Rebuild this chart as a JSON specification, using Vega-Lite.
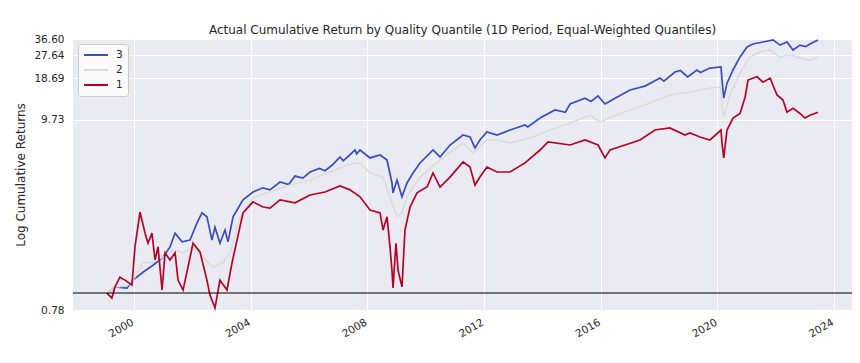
{
  "$schema": "https://vega.github.io/schema/vega-lite/v6.json",
  "width": 779,
  "height": 271,
  "autosize": "none",
  "padding": {"left": 73, "top": 39, "right": 8, "bottom": 53},
  "background": "white",
  "title": {"text": "Actual Cumulative Return by Quality Quantile (1D Period, Equal-Weighted Quantiles)", "fontSize": 12, "fontWeight": "normal", "font": "DejaVu Sans", "color": "#262626", "offset": -3, "anchor": "middle"},
  "datasets": {
    "series": [
      {"date": "1999-01-27", "value": 0.94, "quantile": "3"},
      {"date": "1999-05-08", "value": 1.023, "quantile": "3"},
      {"date": "1999-10-05", "value": 1.01, "quantile": "3"},
      {"date": "1999-12-19", "value": 1.11, "quantile": "3"},
      {"date": "2000-04-22", "value": 1.22, "quantile": "3"},
      {"date": "2000-08-26", "value": 1.33, "quantile": "3"},
      {"date": "2000-12-29", "value": 1.47, "quantile": "3"},
      {"date": "2001-03-27", "value": 1.67, "quantile": "3"},
      {"date": "2001-05-29", "value": 1.99, "quantile": "3"},
      {"date": "2001-08-24", "value": 1.78, "quantile": "3"},
      {"date": "2001-12-02", "value": 1.82, "quantile": "3"},
      {"date": "2002-02-28", "value": 2.27, "quantile": "3"},
      {"date": "2002-05-01", "value": 2.59, "quantile": "3"},
      {"date": "2002-07-02", "value": 2.46, "quantile": "3"},
      {"date": "2002-09-03", "value": 1.82, "quantile": "3"},
      {"date": "2002-10-11", "value": 2.15, "quantile": "3"},
      {"date": "2002-12-12", "value": 1.75, "quantile": "3"},
      {"date": "2003-02-13", "value": 2.07, "quantile": "3"},
      {"date": "2003-03-23", "value": 1.78, "quantile": "3"},
      {"date": "2003-05-25", "value": 2.46, "quantile": "3"},
      {"date": "2003-09-27", "value": 3.08, "quantile": "3"},
      {"date": "2004-01-30", "value": 3.43, "quantile": "3"},
      {"date": "2004-06-03", "value": 3.63, "quantile": "3"},
      {"date": "2004-08-30", "value": 3.53, "quantile": "3"},
      {"date": "2005-01-02", "value": 3.93, "quantile": "3"},
      {"date": "2005-04-20", "value": 3.8, "quantile": "3"},
      {"date": "2005-07-09", "value": 4.27, "quantile": "3"},
      {"date": "2005-10-15", "value": 4.15, "quantile": "3"},
      {"date": "2006-01-13", "value": 4.52, "quantile": "3"},
      {"date": "2006-05-10", "value": 4.75, "quantile": "3"},
      {"date": "2006-07-19", "value": 4.6, "quantile": "3"},
      {"date": "2006-10-19", "value": 4.99, "quantile": "3"},
      {"date": "2007-01-23", "value": 5.6, "quantile": "3"},
      {"date": "2007-03-05", "value": 5.3, "quantile": "3"},
      {"date": "2007-07-30", "value": 6.19, "quantile": "3"},
      {"date": "2007-08-20", "value": 5.85, "quantile": "3"},
      {"date": "2007-10-01", "value": 6.19, "quantile": "3"},
      {"date": "2008-02-03", "value": 5.52, "quantile": "3"},
      {"date": "2008-06-08", "value": 5.76, "quantile": "3"},
      {"date": "2008-09-03", "value": 5.36, "quantile": "3"},
      {"date": "2008-11-04", "value": 3.88, "quantile": "3"},
      {"date": "2008-11-17", "value": 3.39, "quantile": "3"},
      {"date": "2009-01-06", "value": 4.04, "quantile": "3"},
      {"date": "2009-03-09", "value": 3.21, "quantile": "3"},
      {"date": "2009-05-11", "value": 3.88, "quantile": "3"},
      {"date": "2009-07-25", "value": 4.46, "quantile": "3"},
      {"date": "2009-10-21", "value": 5.14, "quantile": "3"},
      {"date": "2010-04-02", "value": 6.19, "quantile": "3"},
      {"date": "2010-06-29", "value": 5.6, "quantile": "3"},
      {"date": "2010-11-01", "value": 6.66, "quantile": "3"},
      {"date": "2011-04-13", "value": 7.72, "quantile": "3"},
      {"date": "2011-07-09", "value": 7.5, "quantile": "3"},
      {"date": "2011-09-09", "value": 6.38, "quantile": "3"},
      {"date": "2011-11-10", "value": 7.17, "quantile": "3"},
      {"date": "2012-02-06", "value": 8.08, "quantile": "3"},
      {"date": "2012-06-11", "value": 7.72, "quantile": "3"},
      {"date": "2012-11-21", "value": 8.32, "quantile": "3"},
      {"date": "2013-05-28", "value": 8.97, "quantile": "3"},
      {"date": "2013-07-01", "value": 8.7, "quantile": "3"},
      {"date": "2013-12-02", "value": 9.97, "quantile": "3"},
      {"date": "2014-06-08", "value": 11.3, "quantile": "3"},
      {"date": "2014-10-15", "value": 10.9, "quantile": "3"},
      {"date": "2014-12-13", "value": 12.4, "quantile": "3"},
      {"date": "2015-06-18", "value": 13.6, "quantile": "3"},
      {"date": "2015-09-01", "value": 12.9, "quantile": "3"},
      {"date": "2015-11-28", "value": 14.1, "quantile": "3"},
      {"date": "2016-02-23", "value": 12.4, "quantile": "3"},
      {"date": "2016-06-28", "value": 13.6, "quantile": "3"},
      {"date": "2017-01-02", "value": 15.5, "quantile": "3"},
      {"date": "2017-07-08", "value": 16.5, "quantile": "3"},
      {"date": "2018-01-12", "value": 18.8, "quantile": "3"},
      {"date": "2018-03-01", "value": 17.9, "quantile": "3"},
      {"date": "2018-07-18", "value": 20.8, "quantile": "3"},
      {"date": "2018-09-25", "value": 21.3, "quantile": "3"},
      {"date": "2018-12-24", "value": 19.2, "quantile": "3"},
      {"date": "2019-04-20", "value": 21.5, "quantile": "3"},
      {"date": "2019-06-03", "value": 20.6, "quantile": "3"},
      {"date": "2019-09-29", "value": 22.2, "quantile": "3"},
      {"date": "2020-02-15", "value": 22.6, "quantile": "3"},
      {"date": "2020-02-27", "value": 18.2, "quantile": "3"},
      {"date": "2020-03-20", "value": 13.6, "quantile": "3"},
      {"date": "2020-04-30", "value": 17.3, "quantile": "3"},
      {"date": "2020-07-14", "value": 21.5, "quantile": "3"},
      {"date": "2020-10-10", "value": 26.8, "quantile": "3"},
      {"date": "2021-01-06", "value": 31.8, "quantile": "3"},
      {"date": "2021-03-21", "value": 33.5, "quantile": "3"},
      {"date": "2021-07-25", "value": 34.7, "quantile": "3"},
      {"date": "2021-11-27", "value": 36.0, "quantile": "3"},
      {"date": "2022-02-23", "value": 32.9, "quantile": "3"},
      {"date": "2022-05-21", "value": 34.7, "quantile": "3"},
      {"date": "2022-08-04", "value": 30.2, "quantile": "3"},
      {"date": "2022-10-31", "value": 32.9, "quantile": "3"},
      {"date": "2023-01-10", "value": 32.0, "quantile": "3"},
      {"date": "2023-03-05", "value": 33.5, "quantile": "3"},
      {"date": "2023-06-13", "value": 36.0, "quantile": "3"},

      {"date": "1999-01-27", "value": 0.94, "quantile": "2"},
      {"date": "1999-05-08", "value": 1.023, "quantile": "2"},
      {"date": "1999-10-05", "value": 1.035, "quantile": "2"},
      {"date": "1999-12-19", "value": 1.11, "quantile": "2"},
      {"date": "2000-04-22", "value": 1.37, "quantile": "2"},
      {"date": "2000-08-26", "value": 1.38, "quantile": "2"},
      {"date": "2000-12-29", "value": 1.47, "quantile": "2"},
      {"date": "2001-05-03", "value": 1.61, "quantile": "2"},
      {"date": "2001-09-06", "value": 1.55, "quantile": "2"},
      {"date": "2002-01-09", "value": 1.67, "quantile": "2"},
      {"date": "2002-05-14", "value": 1.47, "quantile": "2"},
      {"date": "2002-09-16", "value": 1.3, "quantile": "2"},
      {"date": "2003-01-19", "value": 1.37, "quantile": "2"},
      {"date": "2003-04-17", "value": 1.55, "quantile": "2"},
      {"date": "2003-08-20", "value": 2.46, "quantile": "2"},
      {"date": "2004-01-30", "value": 3.16, "quantile": "2"},
      {"date": "2004-07-23", "value": 3.39, "quantile": "2"},
      {"date": "2005-05-07", "value": 3.77, "quantile": "2"},
      {"date": "2006-01-13", "value": 4.04, "quantile": "2"},
      {"date": "2006-09-20", "value": 4.52, "quantile": "2"},
      {"date": "2007-05-28", "value": 5.06, "quantile": "2"},
      {"date": "2007-10-01", "value": 5.14, "quantile": "2"},
      {"date": "2008-02-03", "value": 4.46, "quantile": "2"},
      {"date": "2008-07-15", "value": 4.21, "quantile": "2"},
      {"date": "2008-11-04", "value": 2.96, "quantile": "2"},
      {"date": "2009-01-06", "value": 2.46, "quantile": "2"},
      {"date": "2009-03-09", "value": 2.59, "quantile": "2"},
      {"date": "2009-05-11", "value": 3.21, "quantile": "2"},
      {"date": "2009-10-21", "value": 4.21, "quantile": "2"},
      {"date": "2010-06-29", "value": 5.36, "quantile": "2"},
      {"date": "2011-04-13", "value": 6.86, "quantile": "2"},
      {"date": "2011-08-15", "value": 5.93, "quantile": "2"},
      {"date": "2012-02-06", "value": 7.17, "quantile": "2"},
      {"date": "2012-06-11", "value": 7.17, "quantile": "2"},
      {"date": "2012-11-21", "value": 6.86, "quantile": "2"},
      {"date": "2013-07-30", "value": 7.39, "quantile": "2"},
      {"date": "2014-04-06", "value": 8.32, "quantile": "2"},
      {"date": "2014-12-13", "value": 9.25, "quantile": "2"},
      {"date": "2015-08-19", "value": 10.4, "quantile": "2"},
      {"date": "2015-12-23", "value": 9.39, "quantile": "2"},
      {"date": "2016-06-28", "value": 10.4, "quantile": "2"},
      {"date": "2017-01-02", "value": 11.3, "quantile": "2"},
      {"date": "2017-09-09", "value": 12.6, "quantile": "2"},
      {"date": "2018-05-16", "value": 14.3, "quantile": "2"},
      {"date": "2019-01-22", "value": 15.0, "quantile": "2"},
      {"date": "2019-05-27", "value": 15.5, "quantile": "2"},
      {"date": "2019-09-29", "value": 16.0, "quantile": "2"},
      {"date": "2020-02-15", "value": 16.3, "quantile": "2"},
      {"date": "2020-02-27", "value": 11.9, "quantile": "2"},
      {"date": "2020-03-20", "value": 10.1, "quantile": "2"},
      {"date": "2020-06-07", "value": 14.3, "quantile": "2"},
      {"date": "2020-10-10", "value": 20.5, "quantile": "2"},
      {"date": "2021-02-12", "value": 26.8, "quantile": "2"},
      {"date": "2021-06-18", "value": 29.2, "quantile": "2"},
      {"date": "2021-10-21", "value": 30.2, "quantile": "2"},
      {"date": "2022-02-23", "value": 26.8, "quantile": "2"},
      {"date": "2022-06-28", "value": 27.7, "quantile": "2"},
      {"date": "2022-10-31", "value": 26.4, "quantile": "2"},
      {"date": "2023-03-05", "value": 25.4, "quantile": "2"},
      {"date": "2023-06-13", "value": 26.4, "quantile": "2"},

      {"date": "1999-01-27", "value": 0.951, "quantile": "1"},
      {"date": "1999-03-30", "value": 0.897, "quantile": "1"},
      {"date": "1999-05-08", "value": 1.023, "quantile": "1"},
      {"date": "1999-07-09", "value": 1.15, "quantile": "1"},
      {"date": "1999-09-10", "value": 1.11, "quantile": "1"},
      {"date": "1999-12-06", "value": 1.047, "quantile": "1"},
      {"date": "2000-01-13", "value": 1.67, "quantile": "1"},
      {"date": "2000-03-16", "value": 2.62, "quantile": "1"},
      {"date": "2000-05-18", "value": 1.99, "quantile": "1"},
      {"date": "2000-06-24", "value": 1.75, "quantile": "1"},
      {"date": "2000-08-13", "value": 1.99, "quantile": "1"},
      {"date": "2000-09-20", "value": 1.42, "quantile": "1"},
      {"date": "2000-10-28", "value": 1.67, "quantile": "1"},
      {"date": "2000-12-17", "value": 0.986, "quantile": "1"},
      {"date": "2001-01-23", "value": 1.55, "quantile": "1"},
      {"date": "2001-03-27", "value": 1.42, "quantile": "1"},
      {"date": "2001-05-29", "value": 1.55, "quantile": "1"},
      {"date": "2001-07-05", "value": 1.11, "quantile": "1"},
      {"date": "2001-09-06", "value": 0.986, "quantile": "1"},
      {"date": "2001-11-07", "value": 1.3, "quantile": "1"},
      {"date": "2002-01-09", "value": 1.75, "quantile": "1"},
      {"date": "2002-04-06", "value": 1.57, "quantile": "1"},
      {"date": "2002-07-02", "value": 1.11, "quantile": "1"},
      {"date": "2002-08-09", "value": 0.929, "quantile": "1"},
      {"date": "2002-10-11", "value": 0.8, "quantile": "1"},
      {"date": "2002-12-12", "value": 1.11, "quantile": "1"},
      {"date": "2003-03-10", "value": 0.986, "quantile": "1"},
      {"date": "2003-05-12", "value": 1.37, "quantile": "1"},
      {"date": "2003-07-14", "value": 1.82, "quantile": "1"},
      {"date": "2003-09-27", "value": 2.59, "quantile": "1"},
      {"date": "2004-01-30", "value": 3.0, "quantile": "1"},
      {"date": "2004-06-03", "value": 2.8, "quantile": "1"},
      {"date": "2004-08-30", "value": 2.76, "quantile": "1"},
      {"date": "2005-01-02", "value": 3.08, "quantile": "1"},
      {"date": "2005-07-09", "value": 2.96, "quantile": "1"},
      {"date": "2006-01-13", "value": 3.29, "quantile": "1"},
      {"date": "2006-07-19", "value": 3.43, "quantile": "1"},
      {"date": "2007-01-23", "value": 3.72, "quantile": "1"},
      {"date": "2007-05-28", "value": 3.53, "quantile": "1"},
      {"date": "2007-10-01", "value": 3.21, "quantile": "1"},
      {"date": "2008-02-03", "value": 2.69, "quantile": "1"},
      {"date": "2008-06-08", "value": 2.59, "quantile": "1"},
      {"date": "2008-07-15", "value": 2.07, "quantile": "1"},
      {"date": "2008-09-03", "value": 2.46, "quantile": "1"},
      {"date": "2008-10-10", "value": 1.67, "quantile": "1"},
      {"date": "2008-11-04", "value": 1.25, "quantile": "1"},
      {"date": "2008-11-17", "value": 1.01, "quantile": "1"},
      {"date": "2008-12-24", "value": 1.75, "quantile": "1"},
      {"date": "2009-01-19", "value": 1.25, "quantile": "1"},
      {"date": "2009-03-09", "value": 1.023, "quantile": "1"},
      {"date": "2009-04-16", "value": 2.07, "quantile": "1"},
      {"date": "2009-06-18", "value": 2.8, "quantile": "1"},
      {"date": "2009-09-13", "value": 3.39, "quantile": "1"},
      {"date": "2010-01-17", "value": 3.67, "quantile": "1"},
      {"date": "2010-04-02", "value": 4.46, "quantile": "1"},
      {"date": "2010-06-29", "value": 3.67, "quantile": "1"},
      {"date": "2010-11-01", "value": 4.21, "quantile": "1"},
      {"date": "2011-04-13", "value": 5.21, "quantile": "1"},
      {"date": "2011-07-09", "value": 4.85, "quantile": "1"},
      {"date": "2011-09-09", "value": 3.77, "quantile": "1"},
      {"date": "2011-11-10", "value": 4.21, "quantile": "1"},
      {"date": "2012-02-06", "value": 4.85, "quantile": "1"},
      {"date": "2012-06-11", "value": 4.52, "quantile": "1"},
      {"date": "2012-11-21", "value": 4.52, "quantile": "1"},
      {"date": "2013-05-28", "value": 5.14, "quantile": "1"},
      {"date": "2013-12-02", "value": 6.19, "quantile": "1"},
      {"date": "2014-03-12", "value": 6.96, "quantile": "1"},
      {"date": "2014-12-13", "value": 6.66, "quantile": "1"},
      {"date": "2015-06-18", "value": 7.17, "quantile": "1"},
      {"date": "2015-11-28", "value": 6.66, "quantile": "1"},
      {"date": "2016-02-23", "value": 5.52, "quantile": "1"},
      {"date": "2016-04-26", "value": 6.19, "quantile": "1"},
      {"date": "2016-10-31", "value": 6.66, "quantile": "1"},
      {"date": "2017-05-07", "value": 7.17, "quantile": "1"},
      {"date": "2017-11-10", "value": 8.32, "quantile": "1"},
      {"date": "2018-05-16", "value": 8.58, "quantile": "1"},
      {"date": "2018-11-20", "value": 7.72, "quantile": "1"},
      {"date": "2019-01-22", "value": 7.95, "quantile": "1"},
      {"date": "2019-05-27", "value": 7.5, "quantile": "1"},
      {"date": "2019-09-29", "value": 7.17, "quantile": "1"},
      {"date": "2020-02-15", "value": 8.32, "quantile": "1"},
      {"date": "2020-02-27", "value": 6.86, "quantile": "1"},
      {"date": "2020-03-20", "value": 5.52, "quantile": "1"},
      {"date": "2020-04-30", "value": 8.32, "quantile": "1"},
      {"date": "2020-07-14", "value": 9.97, "quantile": "1"},
      {"date": "2020-10-10", "value": 10.7, "quantile": "1"},
      {"date": "2020-12-12", "value": 13.8, "quantile": "1"},
      {"date": "2021-01-18", "value": 18.2, "quantile": "1"},
      {"date": "2021-05-11", "value": 19.2, "quantile": "1"},
      {"date": "2021-07-25", "value": 17.6, "quantile": "1"},
      {"date": "2021-10-21", "value": 18.8, "quantile": "1"},
      {"date": "2022-01-16", "value": 14.3, "quantile": "1"},
      {"date": "2022-04-01", "value": 13.2, "quantile": "1"},
      {"date": "2022-05-21", "value": 10.9, "quantile": "1"},
      {"date": "2022-08-04", "value": 11.6, "quantile": "1"},
      {"date": "2022-10-31", "value": 10.7, "quantile": "1"},
      {"date": "2023-01-01", "value": 9.97, "quantile": "1"},
      {"date": "2023-03-05", "value": 10.4, "quantile": "1"},
      {"date": "2023-06-13", "value": 10.9, "quantile": "1"}
    ],
    "base": [{"v": 0.951}]
  },
  "layer": [
    {
      "data": {"name": "series"},
      "mark": {"type": "line", "strokeWidth": 1.7},
      "encoding": {
        "x": {
          "field": "date", "type": "temporal",
          "scale": {"type": "utc", "domain": [{"year": 1997, "month": 11, "date": 28, "utc": true}, {"year": 2024, "month": 8, "date": 12, "utc": true}]},
          "axis": {
            "title": null,
            "values": [
              {"year": 2000, "month": 1, "date": 1, "utc": true},
              {"year": 2004, "month": 1, "date": 1, "utc": true},
              {"year": 2008, "month": 1, "date": 1, "utc": true},
              {"year": 2012, "month": 1, "date": 1, "utc": true},
              {"year": 2016, "month": 1, "date": 1, "utc": true},
              {"year": 2020, "month": 1, "date": 1, "utc": true},
              {"year": 2024, "month": 1, "date": 1, "utc": true}
            ],
            "format": "%Y", "formatType": "utc",
            "labelAngle": -30, "labelAlign": "right", "labelBaseline": "top", "labelPadding": 7, "labelOffset": -4
          }
        },
        "y": {
          "field": "value", "type": "quantitative",
          "scale": {"type": "pow", "exponent": -0.11, "domain": [0.78, 36.6], "nice": false, "zero": false},
          "axis": {
            "title": "Log Cumulative Returns",
            "values": [0.78, 9.73, 18.69, 27.64, 36.6],
            "format": ".2f", "labelPadding": 9, "labelOverlap": false, "titlePadding": 6
          }
        },
        "color": {
          "field": "quantile", "type": "nominal",
          "scale": {"domain": ["3", "2", "1"], "range": ["#3b4cc0", "#dddcdc", "#b40426"]},
          "legend": {
            "title": null, "orient": "top-left", "offset": 5,
            "symbolType": "stroke", "symbolSize": 576, "symbolStrokeWidth": 2,
            "clipHeight": 12,
            "labelFontSize": 10.5, "labelColor": "#262626", "labelOffset": 7,
            "fillColor": "#fbfbfc", "strokeColor": "#cccccc", "cornerRadius": 3,
            "padding": 5, "rowPadding": 3
          }
        }
      }
    },
    {
      "data": {"name": "base"},
      "mark": {"type": "rule", "color": "black", "strokeWidth": 1.1},
      "encoding": {
        "y": {"field": "v", "type": "quantitative", "scale": {"type": "pow", "exponent": -0.11, "domain": [0.78, 36.6], "nice": false, "zero": false}}
      }
    }
  ],
  "config": {
    "font": "DejaVu Sans",
    "view": {"fill": "#EAEAF2", "stroke": null},
    "axis": {
      "grid": true, "gridColor": "#ffffff", "gridWidth": 1, "gridOpacity": 1,
      "domain": false, "ticks": false,
      "labelFont": "DejaVu Sans", "labelFontSize": 10.5, "labelColor": "#262626",
      "titleFont": "DejaVu Sans", "titleFontSize": 12, "titleFontWeight": "normal", "titleColor": "#262626"
    },
    "legend": {"labelFont": "DejaVu Sans"}
  }
}
